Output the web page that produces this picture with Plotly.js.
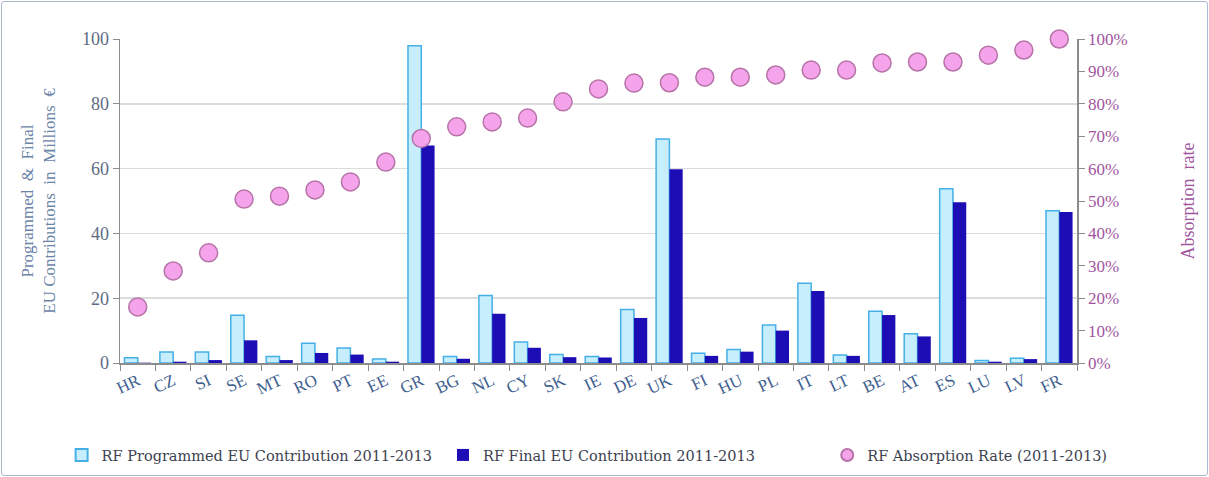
<!DOCTYPE html>
<html>
<head>
<meta charset="utf-8">
<script src="https://cdn.plot.ly/plotly-3.0.1.min.js"></script>
<style>
  html, body { margin: 0; padding: 0; background: #fff; }
  #wrap { position: relative; width: 1209px; height: 477px; }
  #chart { width: 1209px; height: 477px; }
  #frame { position: absolute; left: 1px; top: 1px; width: 1205px; height: 473px;
           border: 1.5px solid #a9b9cf; border-radius: 3px; pointer-events: none; }
</style>
</head>
<body>
<div id="wrap"><div id="chart"></div><div id="frame"></div></div>
<script>
const countries = ["HR","CZ","SI","SE","MT","RO","PT","EE","GR","BG","NL","CY","SK","IE","DE","UK","FI","HU","PL","IT","LT","BE","AT","ES","LU","LV","FR"];
const programmed = [1.6,3.4,3.4,14.7,2.0,6.1,4.6,1.2,97.9,2.0,20.8,6.5,2.6,2.0,16.5,69.1,3.0,4.2,11.7,24.6,2.5,16.0,9.0,53.8,0.8,1.5,47.0];
const finalC = [0.1,0.4,0.9,7.0,0.9,3.1,2.6,0.4,67.1,1.3,15.2,4.7,1.8,1.7,13.9,59.8,2.2,3.5,10.0,22.2,2.2,14.8,8.2,49.6,0.4,1.2,46.6];
const absorption = [0.173,0.284,0.340,0.506,0.515,0.534,0.559,0.620,0.693,0.729,0.744,0.756,0.806,0.846,0.864,0.865,0.882,0.882,0.889,0.904,0.904,0.926,0.929,0.929,0.950,0.966,1.000];
const legendNames = ["RF Programmed EU Contribution 2011-2013","RF Final EU Contribution 2011-2013","RF Absorption Rate (2011-2013)"];

const serif = "Liberation Serif, Times New Roman, serif";

const traces = [
  { type: "bar", name: legendNames[0], x: countries, y: programmed, legend: "legend",
    marker: { color: "#c6eefc", line: { color: "#45b0e6", width: 1.5 } } },
  { type: "bar", name: legendNames[1], x: countries, y: finalC, legend: "legend2",
    marker: { color: "#1c0db4", line: { color: "#1c0db4", width: 0 } } },
  { type: "scatter", mode: "markers", name: legendNames[2], x: countries, y: absorption, yaxis: "y2",
    legend: "legend3", cliponaxis: false,
    marker: { size: 18, color: "#f5a3ea", line: { color: "#b673a8", width: 1.5 } } }
];

const legFont = { family: "DejaVu Serif, serif", size: 14.5, color: "#3d4250" };
const legBase = { orientation: "h", y: -0.284, yanchor: "middle", xanchor: "left",
                  font: legFont, itemwidth: 30, itemsizing: "constant", bgcolor: "rgba(0,0,0,0)" };

const layout = {
  width: 1209, height: 477,
  margin: { l: 120, r: 132, t: 39, b: 114, autoexpand: false },
  paper_bgcolor: "#ffffff", plot_bgcolor: "#ffffff",
  font: { family: serif },
  barmode: "group", bargap: 0.25, bargroupgap: 0,
  showlegend: true,
  legend: Object.assign({}, legBase, { x: -0.061 }),
  legend2: Object.assign({}, legBase, { x: 0.3375 }),
  legend3: Object.assign({}, legBase, { x: 0.739 }),
  xaxis: {
    type: "category", range: [-0.5, countries.length - 0.5], autorange: false,
    tickangle: -25, ticks: "outside", tickson: "boundaries", ticklen: 6,
    tickcolor: "#8c8c8c", showline: true, linecolor: "#8c8c8c", linewidth: 1.5,
    tickfont: { family: serif, size: 17, color: "#3f5f8f" }, showgrid: false, automargin: false
  },
  yaxis: {
    range: [0, 100], dtick: 20, ticks: "outside", ticklen: 6, tickcolor: "#8c8c8c",
    showline: true, linecolor: "#8c8c8c", linewidth: 1.5,
    gridcolor: "#dcdcdc", gridwidth: 1.5, zeroline: false, automargin: false,
    tickfont: { family: serif, size: 18, color: "#5d6b84" },
    title: { text: "Programmed  &  Final<br>EU Contributions  in  Millions  €",
             font: { family: serif, size: 17, color: "#6b84a8" }, standoff: 22 }
  },
  yaxis2: {
    overlaying: "y", side: "right", range: [0, 1], dtick: 0.1, tickformat: ".0%",
    ticks: "outside", ticklen: 6, tickcolor: "#8c8c8c", showline: true, linecolor: "#8c8c8c",
    linewidth: 1.5, showgrid: false, zeroline: false, automargin: false,
    tickfont: { family: serif, size: 17, color: "#a0559e" },
    title: { text: "Absorption  rate", font: { family: serif, size: 18, color: "#a0559e" }, standoff: 55 }
  }
};

Plotly.newPlot("chart", traces, layout, { displayModeBar: false, staticPlot: true });
</script>
</body>
</html>
